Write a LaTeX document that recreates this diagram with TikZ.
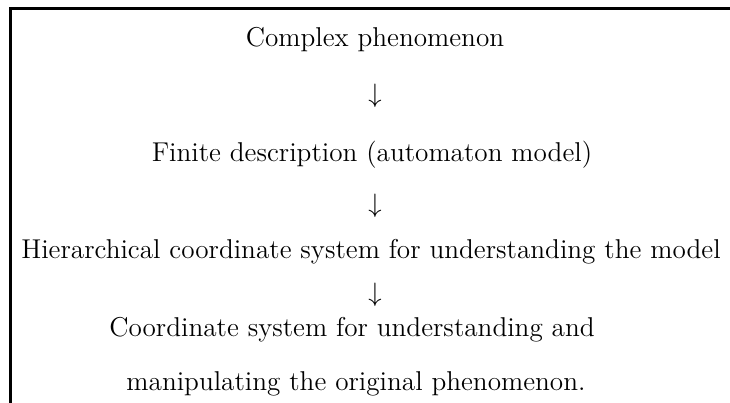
\documentclass[tikz,border=0pt]{standalone}
\begin{document}
\begin{tikzpicture}[x=0.4115pt,y=-0.4115pt,
  txt/.style={inner sep=0pt,anchor=base,font=\fontsize{11.2pt}{13.5pt}\selectfont},
  frame/.style={line width=1.2pt}]
\useasboundingbox (0,0) rectangle (730,403);
\node[txt] (a) at (375,47) {Complex phenomenon};
\node[txt] (b) at (375,103) {$\downarrow$};
\node[txt] (c) at (372,162) {Finite description (automaton model)};
\node[txt] (d) at (375,213) {$\downarrow$};
\node[txt] (e) at (371,259) {Hierarchical coordinate system for understanding the model};
\node[txt] (f) at (375,302) {$\downarrow$};
\node[txt] (g) at (352,337) {Coordinate system for understanding and};
\node[txt] (h) at (356,391) {manipulating the original phenomenon.};
\coordinate (tl) at (10.5,8.5);
\coordinate (tr) at (735,8.5);
\coordinate (bl) at (10.5,410);
\draw[frame] (tr) -- (tl) -- (bl);
\end{tikzpicture}
\end{document}
